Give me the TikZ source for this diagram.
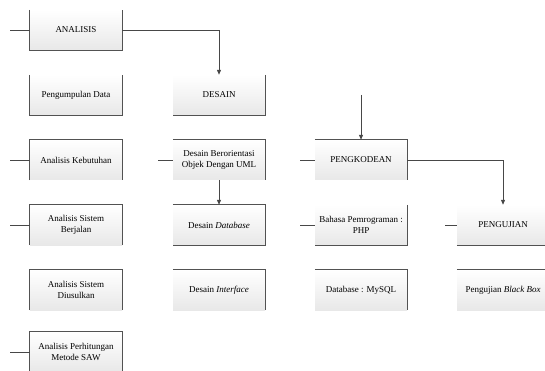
\documentclass[tikz,border=0pt]{standalone}
\usepackage{fontspec}
\setmainfont{Liberation Serif}
\usetikzlibrary{arrows.meta}
\begin{document}
\begin{tikzpicture}[x=1pt,y=-1pt,
  box/.style={minimum width=92pt,minimum height=40pt,inner sep=1pt,align=center,
    top color=white,bottom color=black!9,font=\fontsize{9}{10.5}\selectfont},
  edge/.style={draw=black!68,line width=1.1pt},
  conn/.style={draw=black!72,line width=0.9pt},
  arr/.style={conn,-{Triangle[width=4pt,length=5pt]}}]
\useasboundingbox (0,0) rectangle (545,371);
% left column
\node[box] (ana) at (76,30) {ANALISIS};
\node[box] (pd) at (76,95) {Pengumpulan Data};
\node[box] (ak) at (76,160) {Analisis Kebutuhan};
\node[box] (asb) at (76,225) {Analisis Sistem\\Berjalan};
\node[box] (asd) at (76,290) {Analisis Sistem\\Diusulkan};
\node[box] (saw) at (76,352) {Analisis Perhitungan\\Metode SAW};
% middle column
\node[box] (des) at (219,95) {DESAIN};
\node[box] (uml) at (219,160) {Desain Berorientasi\\Objek Dengan UML};
\node[box] (ddb) at (219,225) {Desain \textit{Database}};
\node[box] (dif) at (219,290) {Desain \textit{Interface}};
% third column
\node[box] (pk) at (361,160) {PENGKODEAN};
\node[box] (php) at (361,225) {Bahasa Pemrograman :\\PHP};
\node[box] (sql) at (361,290) {Database : MySQL};
% fourth column
\node[box] (uji) at (503,225) {PENGUJIAN};
\node[box] (bb) at (503,290) {Pengujian \textit{Black Box}};
% box edges
\draw[edge] (ana.north west) -- (ana.south west) -- (ana.south east) -- (ana.north east);
\draw[edge] (pd.north west) -- (pd.south west) -- (pd.south east) -- (pd.north east);
\draw[edge] (ak.south west) -- (ak.north west) -- (ak.north east) -- (ak.south east);
\draw[edge] (asb.south west) -- (asb.north west) -- (asb.north east) -- (asb.south east);
\draw[edge] (asd.south west) -- (asd.north west) -- (asd.north east) -- (asd.south east);
\draw[edge] (saw.south west) -- (saw.north west) -- (saw.north east) -- (saw.south east);
\draw[edge] (des.north east) -- (des.south east) -- (des.south west);
\draw[edge] (uml.north west) -- (uml.north east) -- (uml.south east);
\draw[edge] (ddb.north west) -- (ddb.north east) -- (ddb.south east) -- (ddb.south west);
\draw[edge] (dif.north west) -- (dif.north east) -- (dif.south east);
\draw[edge] (pk.north west) -- (pk.north east) -- (pk.south east);
\draw[edge] (php.north east) -- (php.south east) -- (php.south west);
\draw[edge] (sql.north west) -- (sql.north east) -- (sql.south east);
\draw[edge] (uji.south west) -- (uji.south east);
\draw[edge] (bb.north west) -- (bb.north east);
% stubs
\coordinate (s1) at (10,30);
\coordinate (s2) at (10,160);
\coordinate (s3) at (10,225);
\coordinate (s4) at (10,352);
\coordinate (s5) at (158,160);
\coordinate (s6) at (300,160);
\coordinate (s7) at (300,225);
\coordinate (s8) at (445,225);
\coordinate (top) at (361,95);
\draw[conn] (s1) -- (ana.west);
\draw[conn] (s2) -- (ak.west);
\draw[conn] (s3) -- (asb.west);
\draw[conn] (s4) -- (saw.west);
\draw[conn] (s5) -- (uml.west);
\draw[conn] (s6) -- (pk.west);
\draw[conn] (s7) -- (php.west);
\draw[conn] (s8) -- (uji.west);
% arrows
\draw[arr] (ana.east) -| (des.north);
\draw[arr] (uml.south) -- (ddb.north);
\draw[arr] (top) -- (pk.north);
\draw[arr] (pk.east) -| (uji.north);
\end{tikzpicture}
\end{document}
